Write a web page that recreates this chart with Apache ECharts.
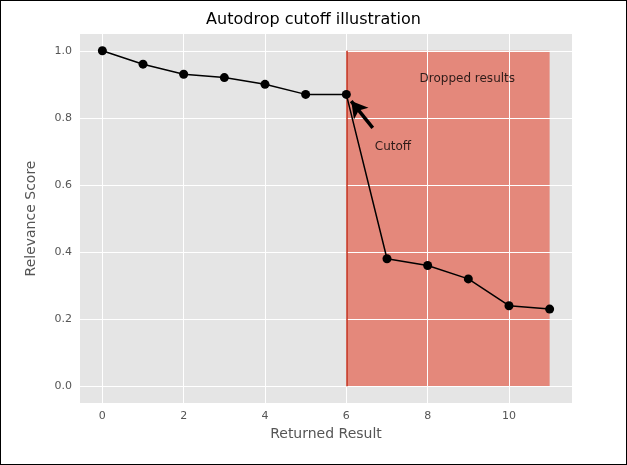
<!DOCTYPE html>
<html><head><meta charset="utf-8">
<script src="https://cdn.jsdelivr.net/npm/echarts@6/dist/echarts.min.js"></script>
<style>html,body{margin:0;padding:0;background:#fff}#c{width:625px;height:463px;border:1px solid #000}</style>
</head><body><div id="c"></div>
<script>
const xValues=[0,1,2,3,4,5,6,7,8,9,10,11];
const scores=[1.0,0.96,0.93,0.92,0.90,0.87,0.87,0.38,0.36,0.32,0.24,0.23];
const xTicks=[0,2,4,6,8,10];
const yTicks=[0.0,0.2,0.4,0.6,0.8,1.0];
const cutoffIndex=6;
const font='DejaVu Sans';
const chart=echarts.init(document.getElementById('c'));
chart.setOption({
  backgroundColor:'#fff',
  title:{text:'Autodrop cutoff illustration',left:'center',top:6,textStyle:{fontFamily:font,fontSize:16,fontWeight:'normal',color:'#000'}},
  grid:{left:79,top:33,width:492,height:369,backgroundColor:'#e5e5e5',show:true,borderWidth:0},
  xAxis:{type:'value',min:-0.55,max:11.55,name:'Returned Result',nameLocation:'middle',nameGap:24,
    nameTextStyle:{fontFamily:font,fontSize:14,color:'#555'},
    axisLine:{show:false},axisTick:{show:true,lineStyle:{color:'#555'},length:4},
    axisLabel:{fontFamily:font,fontSize:11,color:'#555',customValues:xTicks},
    axisTick:{customValues:xTicks,lineStyle:{color:'#555'}},
    splitLine:{show:false}},
  yAxis:{type:'value',min:-0.05,max:1.05,name:'Relevance Score',nameLocation:'middle',nameGap:42,
    nameTextStyle:{fontFamily:font,fontSize:14,color:'#555'},
    axisLine:{show:false},
    axisLabel:{fontFamily:font,fontSize:11,color:'#555',customValues:yTicks,formatter:v=>v.toFixed(1)},
    axisTick:{show:true,customValues:yTicks,lineStyle:{color:'#555'}},
    splitLine:{show:false}},
  series:[
    {type:'line',data:xTicks.map(x=>[x,-0.05]),symbol:'none',lineStyle:{opacity:0},silent:true,
      markLine:{silent:true,symbol:'none',label:{show:false},lineStyle:{color:'#fff',width:1,type:'solid'},
        data:[...xTicks.map(x=>({xAxis:x})),...yTicks.map(y=>({yAxis:y}))]}},
    {type:'line',data:[],markArea:{silent:true,itemStyle:{color:'rgba(226,74,51,0.6)',borderColor:'#c83a26',borderWidth:0},
      data:[[{coord:[cutoffIndex,0]},{coord:[11,1.0]}]]},
      markLine:{silent:true,symbol:'none',label:{show:false},lineStyle:{color:'#c0301e',width:1.5,type:'solid'},
        data:[[{coord:[cutoffIndex,0]},{coord:[cutoffIndex,1.0]}]]}},
    {type:'line',data:xValues.map((x,i)=>[x,scores[i]]),symbol:'circle',symbolSize:9,
      lineStyle:{color:'#000',width:1.5},itemStyle:{color:'#000'},z:5,
      markLine:{silent:true,symbol:['none','arrow'],symbolSize:[14,16],label:{show:false},lineStyle:{color:'#000',width:3.5,type:'solid'},
        data:[[{coord:[6.65,0.77]},{coord:[6.12,0.85]}]]}},
    {type:'scatter',symbolSize:0,data:[[6.7,0.715],[7.8,0.915]],
      label:{show:true,position:'right',distance:0,fontFamily:font,fontSize:12,color:'#000',
        formatter:p=>p.dataIndex===0?'Cutoff':'Dropped results'},z:6}
  ]
});
</script></body></html>
